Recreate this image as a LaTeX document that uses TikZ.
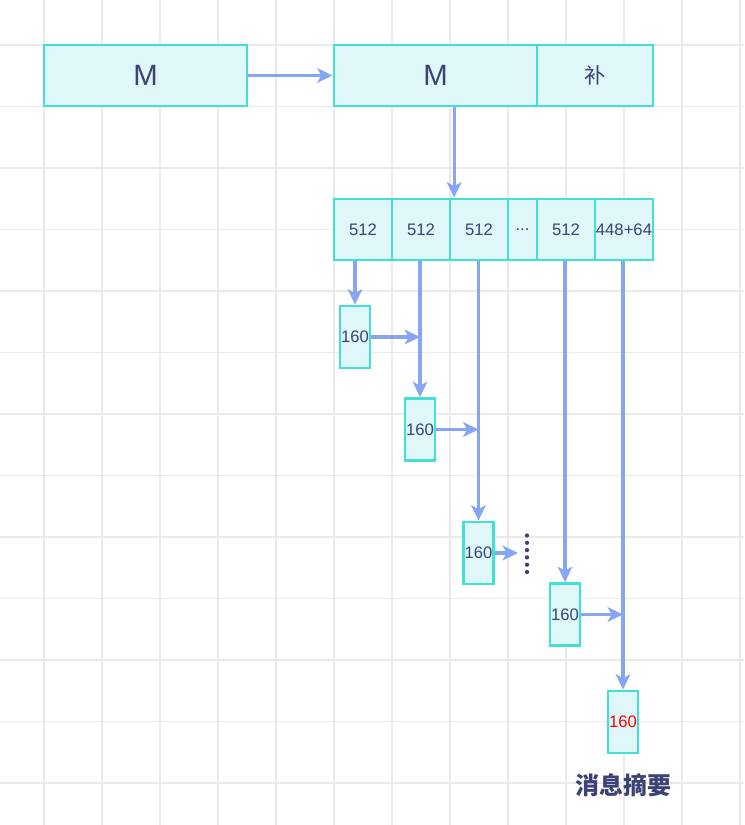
\documentclass[tikz,border=0pt]{standalone}
\usepackage{fontspec}
\setmainfont{Liberation Sans}
\newfontfamily\cjk{Noto Sans CJK SC}
\usetikzlibrary{arrows.meta}
\definecolor{boxline}{HTML}{41E0D4}
\definecolor{boxfill}{HTML}{DFF7F8}
\definecolor{arrblue}{HTML}{86A6F3}
\definecolor{navy}{HTML}{3C4275}
\definecolor{gridgray}{HTML}{EAEAEA}

\begin{document}
\begin{tikzpicture}[x=0.75pt,y=-0.75pt,
  box/.style={draw=boxline,fill=boxfill,line width=2.2pt,inner sep=0pt,
    minimum height=45.75pt,text=navy,font=\fontsize{12.5}{15}\selectfont},
  big/.style={box,minimum width=152.25pt,font=\fontsize{22}{26}\selectfont},
  blk/.style={box,minimum width=43.5pt},
  sm/.style={box,minimum width=22.5pt,minimum height=46.5pt},
  arr/.style={draw=arrblue,line width=2.3pt,-{Stealth[length=11.5pt,width=11pt,inset=3pt]}},
  grid/.style={draw=gridgray,line width=0.9pt}]
\path[use as bounding box,fill=white] (0,0) rectangle (744,825);
\foreach \i in {0,...,12}
  \draw[grid] (44+58*\i,0) -- (44+58*\i,825);
\foreach \j in {0,...,12}
  \draw[grid] (0,45+61.5*\j) -- (744,45+61.5*\j);

\node[big] (m1) at (145.5,75.5) {M};
\node[big] (m2) at (435.5,75.5) {M};
\node[box,minimum width=87pt,font=\cjk\fontsize{16}{19}\selectfont] (bu) at (595,75.5) {补};

\node[blk] (b1) at (363,229.5) {512};
\node[blk] (b2) at (421,229.5) {512};
\node[blk] (b3) at (479,229.5) {512};
\node[box,minimum width=21.75pt] (b4) at (522.5,229.5) {...};
\node[blk] (b5) at (566,229.5) {512};
\node[blk] (b6) at (624,229.5) {448+64};

\node[sm] (s1) at (355,337) {160};
\node[sm] (s2) at (420,429.5) {160};
\node[sm] (s3) at (478.5,553) {160};
\node[sm] (s4) at (565,614.5) {160};
\node[sm,text=red] (s5) at (623,722) {160};
\node[text=navy,font=\cjk\bfseries\fontsize{18}{22}\selectfont] (md) at (623,785) {消息摘要};

\coordinate (dt) at (518,553);
\foreach \k in {0,...,5}
  \fill[navy] (527,535.5+7.3*\k) circle (1.6pt);

\draw[arr] (m1) -- (m2);
\draw[arr] ([xshift=14pt]m2.south) -- ([xshift=14pt]m2.south |- b1.north);

\draw[arr] (s1 |- b1.south) -- (s1.north);
\draw[arr] (s2 |- b2.south) -- (s2.north);
\draw[arr] (s3 |- b3.south) -- (s3.north);
\draw[arr] (s4 |- b5.south) -- (s4.north);
\draw[arr] (s5 |- b6.south) -- (s5.north);

\draw[arr] (s1.east) -- (s2 |- s1.east);
\draw[arr] (s2.east) -- (s3 |- s2.east);
\draw[arr] (s3.east) -- (dt);
\draw[arr] (s4.east) -- (s5 |- s4.east);
\end{tikzpicture}
\end{document}
